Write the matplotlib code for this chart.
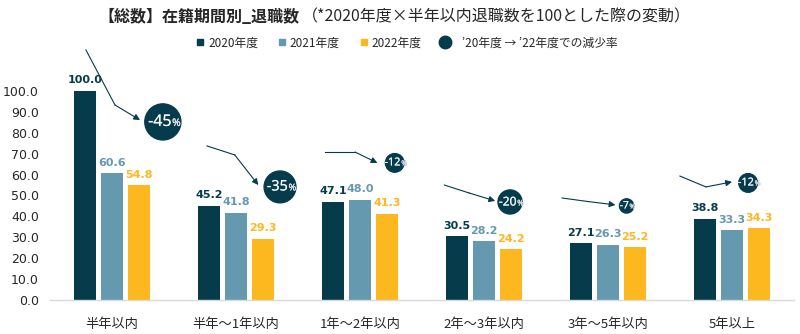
import matplotlib
matplotlib.use("Agg")
import matplotlib.pyplot as plt
import matplotlib.patheffects as pe
from matplotlib.lines import Line2D
from matplotlib.offsetbox import TextArea, HPacker, AnnotationBbox
import numpy as np

# data
categories = ["半年以内", "半年～1年以内", "1年～2年以内", "2年～3年以内", "3年～5年以内", "5年以上"]
y2020 = [100.0, 45.2, 47.1, 30.5, 27.1, 38.8]
y2021 = [60.6, 41.8, 48.0, 28.2, 26.3, 33.3]
y2022 = [54.8, 29.3, 41.3, 24.2, 25.2, 34.3]
series_names = ["2020年度", "2021年度", "2022年度"]
decrease_rate = [45, 35, 12, 20, 7, 12]   # '20 -> '22 (%)

# bubble placement (x offset from group centre, y on value axis)
bubble_dx = [0.41, 0.355, 0.28, 0.21, 0.15, 0.13]
bubble_y = [85.2, 54.1, 65.6, 46.9, 45.0, 56.0]
# arrow paths: (start, bend, end) as (dx from group, y)
arrow_start = [(-0.21, 119.6), (-0.234, 73.7), (-0.28, 70.8), (-0.32, 55.0), (-0.37, 48.8), (-0.42, 59.3)]
arrow_bend = [(0.024, 93.3), (-0.01, 69.4), (-0.04, 70.8), (-0.12, 51.2), (-0.16, 47.1), (-0.21, 54.1)]
arrow_end = [(0.226, 86.1), (0.18, 55.0), (0.14, 65.6), (0.09, 47.4), (0.06, 45.5), (0.0, 56.5)]

colors = ["#053B4B", "#6599B0", "#FDB71F"]
dark_text = "#262626"
jp = ["Noto Sans CJK JP", "DejaVu Sans"]

fig = plt.figure(figsize=(8, 3.34), dpi=100)
ax = fig.add_axes([50 / 800, 1 - 300 / 334, 744 / 800, 255 / 334])

x = np.arange(len(categories))
width = 0.17
step = 0.218
for i, vals in enumerate([y2020, y2021, y2022]):
    pos = x + (i - 1) * step
    ax.bar(pos, vals, width, color=colors[i], zorder=2)
    for px, v in zip(pos, vals):
        ax.annotate(f"{v:.1f}", (px, v), xytext=(0, 4), textcoords="offset points",
                    ha="center", va="bottom", fontsize=8, fontweight="bold",
                    color=colors[i], family="DejaVu Sans", zorder=5)

# arrows
for g in range(len(categories)):
    sx, sy = arrow_start[g]
    bx, by = arrow_bend[g]
    ex, ey = arrow_end[g]
    ax.plot([g + sx, g + bx], [sy, by], color=colors[0], lw=0.8, zorder=3)
    ax.annotate("", xy=(g + ex, ey), xytext=(g + bx, by),
                arrowprops=dict(arrowstyle="-|>", color=colors[0], lw=0.8,
                                mutation_scale=9, shrinkA=0, shrinkB=0), zorder=3)

# bubbles
bx_all = x + np.array(bubble_dx)
ax.scatter(bx_all, bubble_y, s=[15 * r for r in decrease_rate], color=colors[0], zorder=4)
outline = [pe.withStroke(linewidth=0.3, foreground="#8fa6af")]
for g, r in enumerate(decrease_rate):
    fs = 6.5 + r * 0.11
    t1 = TextArea(f"-{r}", textprops=dict(color="white", fontsize=fs, family="Open Sans",
                                           path_effects=outline))
    t2 = TextArea("%", textprops=dict(color="white", fontsize=fs * 0.65, family="Open Sans",
                                       path_effects=outline))
    box = HPacker(children=[t1, t2], align="baseline", pad=0, sep=0.5)
    ab = AnnotationBbox(box, (bx_all[g], bubble_y[g]), frameon=False, box_alignment=(0.45, 0.5),
                        zorder=6)
    ax.add_artist(ab)

ax.set_xlim(-0.5, len(categories) - 0.5)
ax.set_ylim(0, 122)
ax.set_yticks(np.arange(0, 101, 10))
ax.set_yticklabels([f"{v:.1f}" for v in np.arange(0, 101, 10)], family="DejaVu Sans",
                   fontsize=9, color=dark_text)
ax.set_xticks(x)
ax.set_xticklabels(categories, family=jp, fontsize=9.5, color=dark_text)
ax.tick_params(axis="y", length=0, pad=8)
ax.tick_params(axis="x", length=0, pad=13)
for s in ["top", "right", "left"]:
    ax.spines[s].set_visible(False)
ax.spines["bottom"].set_color("#d9d9d9")
ax.spines["bottom"].set_linewidth(1.0)

# title
fig.text(300 / 800, 1 - 17 / 334, "【総数】在籍期間別_退職数", ha="right", va="center",
         fontsize=11.5, fontweight="bold", family=jp, color=dark_text)
fig.text(302 / 800, 1 - 17 / 334, "（*2020年度×半年以内退職数を100とした際の変動）", ha="left",
         va="center", fontsize=11.5, family=jp, color=dark_text)

# legend
handles = [Line2D([], [], marker="s", ls="", color=c, markersize=5) for c in colors]
handles.append(Line2D([], [], marker="o", ls="", color=colors[0], markersize=9))
labels = series_names + ["   ’20年度 → ’22年度での減少率"]
leg = fig.legend(handles, labels, loc="center", bbox_to_anchor=(405 / 800, 1 - 43 / 334),
                 ncol=4, frameon=False, handletextpad=0.1, columnspacing=1.4,
                 handlelength=1.2, prop=dict(family=jp, size=8.5))
for t in leg.get_texts():
    t.set_color(dark_text)

fig.savefig("out.png", dpi=100)
